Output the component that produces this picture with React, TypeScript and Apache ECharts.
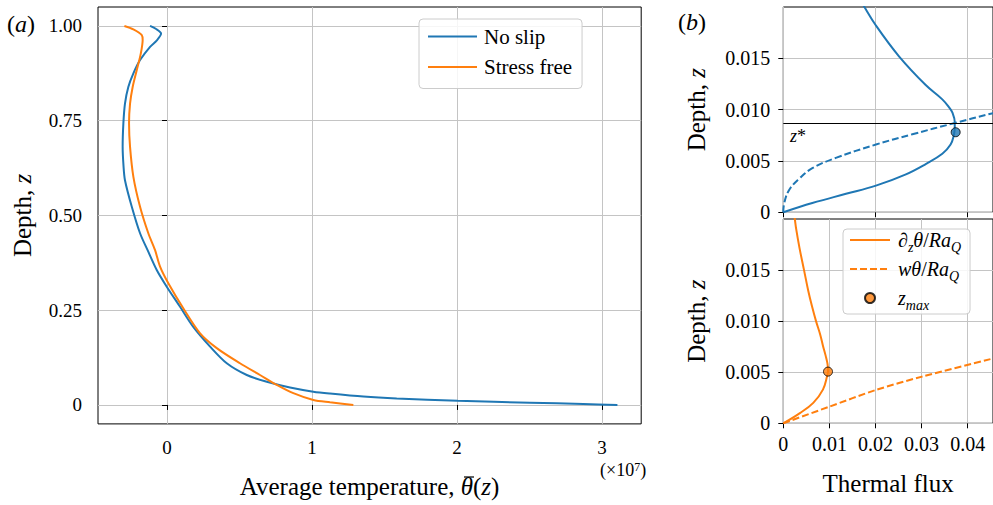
import React, { useEffect, useRef } from "react";
import * as echarts from "echarts";

const FONT = "Liberation Serif, Times New Roman, serif";
const BLUE = "#1f77b4";
const ORANGE = "#ff7f0e";

// ---------- Panel (a): average temperature (units of 1e7) vs depth ----------
const noSlipTemp = [-0.117, -0.075, -0.041, -0.07, -0.117, -0.186, -0.232, -0.267, -0.29, -0.301, -0.306, -0.3, -0.29, -0.243, -0.186, -0.13, -0.071, -0.002, 0.09, 0.181, 0.297, 0.412, 0.55, 0.688, 0.848, 1.009, 1.124, 1.354, 1.584, 2.005, 2.503, 2.871, 3.106];
const noSlipDepth = [1.0, 0.992, 0.98, 0.962, 0.945, 0.91, 0.875, 0.839, 0.795, 0.743, 0.681, 0.63, 0.593, 0.523, 0.453, 0.405, 0.356, 0.312, 0.259, 0.206, 0.154, 0.11, 0.079, 0.061, 0.046, 0.035, 0.03, 0.022, 0.017, 0.011, 0.006, 0.0026, 0];
const stressFreeTemp = [-0.294, -0.232, -0.174, -0.168, -0.181, -0.209, -0.237, -0.255, -0.262, -0.255, -0.232, -0.186, -0.129, -0.083, -0.048, 0.009, 0.112, 0.228, 0.343, 0.503, 0.641, 0.757, 0.871, 1.009, 1.124, 1.285];
const stressFreeDepth = [1.0, 0.991, 0.976, 0.963, 0.927, 0.883, 0.839, 0.795, 0.743, 0.681, 0.602, 0.523, 0.453, 0.409, 0.365, 0.321, 0.255, 0.189, 0.15, 0.11, 0.079, 0.053, 0.031, 0.013, 0.007, 0];
const tempTicks = [0, 1, 2, 3];
const depthTicks = [0, 0.25, 0.5, 0.75, 1.0];

// ---------- Panel (b): thermal flux near the boundary ----------
// no slip (top)
const nsCondFlux = [0, 0.0063, 0.0136, 0.0201, 0.0266, 0.0309, 0.0345, 0.0363, 0.037, 0.0372, 0.0372, 0.0367, 0.036, 0.0345, 0.0309, 0.0251, 0.0201, 0.0172, 0.0168];
const nsCondDepth = [0, 0.0009, 0.0018, 0.0026, 0.0037, 0.0047, 0.0057, 0.0066, 0.0075, 0.0083, 0.0088, 0.0097, 0.0102, 0.011, 0.0124, 0.0152, 0.0182, 0.0203, 0.0206];
const nsConvFlux = [0, 0.0002, 0.0013, 0.0035, 0.0063, 0.0114, 0.0201, 0.028, 0.0372, 0.045, 0.047];
const nsConvDepth = [0, 0.0009, 0.0022, 0.0033, 0.0043, 0.0053, 0.0066, 0.0076, 0.0087, 0.0096, 0.0098];
const zStar = 0.00867;
const nsMax = [0.0374, 0.0078];
// stress free (bottom)
const sfCondFlux = [0, 0.0036, 0.0065, 0.0086, 0.0095, 0.0097, 0.0096, 0.0092, 0.0086, 0.008, 0.0071, 0.0062, 0.0054, 0.0045, 0.0035, 0.0028, 0.0025, 0.0024];
const sfCondDepth = [0, 0.001, 0.002, 0.0033, 0.0046, 0.0051, 0.0058, 0.0066, 0.0076, 0.0087, 0.01, 0.0115, 0.013, 0.015, 0.0172, 0.019, 0.02, 0.0203];
const sfConvFlux = [0, 0.01, 0.0201, 0.0301, 0.0451, 0.047];
const sfConvDepth = [0, 0.00163, 0.00326, 0.00457, 0.0063, 0.0065];
const sfMax = [0.0097, 0.00506];
const fluxTicksTop = [0, 0.02, 0.04];
const fluxTicks = [0, 0.01, 0.02, 0.03, 0.04];
const depthTicksB = [0, 0.005, 0.01, 0.015];

const zip = (xs: number[], ys: number[]) => xs.map((x, i) => [x, ys[i]]);

const italicRich = (size: number) => ({
  i: { fontStyle: "italic", fontSize: size, fontFamily: FONT, color: "#000" },
});

const tick = (vals: number[]) => ({
  show: true,
  customValues: vals,
  length: 5,
  lineStyle: { color: "#000", width: 1 },
});
const split = { show: true, lineStyle: { color: "#c4c4c4", width: 1 } };

const legendRich = {
  n: { fontSize: 20, fontFamily: FONT, color: "#000", lineHeight: 28, verticalAlign: "middle" },
  i: { fontSize: 20, fontFamily: FONT, fontStyle: "italic", color: "#000", lineHeight: 28, verticalAlign: "middle" },
  s: { fontSize: 14, fontFamily: FONT, fontStyle: "italic", color: "#000", lineHeight: 16, verticalAlign: "bottom" },
};
const legendLabels: Record<string, string> = {
  "∂zθ/RaQ": "{n|∂}{s|z}{i|θ}{n|/}{i|Ra}{s|Q}",
  "wθ/RaQ": "{i|wθ}{n|/}{i|Ra}{s|Q}",
  zmax: "{i|z}{s|max}",
};
const noSymbol = { color: "rgba(0,0,0,0)", borderColor: "rgba(0,0,0,0)", borderWidth: 0, opacity: 0 };

export default function App() {
  const ref = useRef<HTMLDivElement>(null);
  useEffect(() => {
    if (!ref.current) return;
    const chart = echarts.init(ref.current, undefined, { renderer: "svg" });
    const fmt = (d: number) => (v: number) => "{d|" + (v === 0 ? "0" : v.toFixed(d)) + "}";
    const nameStyle = { fontSize: 25, fontFamily: FONT, color: "#000", rich: italicRich(25) };
    const label = (size: number, margin: number, vals: number[], f: (v: number) => string) => ({
      customValues: vals, formatter: f, fontSize: size, fontFamily: FONT, color: "#000", margin,
      rich: { d: { fontSize: size, fontFamily: FONT, color: "#000" } },
    });
    const option: any = {
      animation: false,
      backgroundColor: "#fff",
      textStyle: { fontFamily: FONT },
      grid: [
        { left: 98, top: 7, width: 543.2, height: 416.9, show: true, borderColor: "#000", borderWidth: 1, backgroundColor: "transparent" },
        { left: 783.3, top: 7, width: 211.6, height: 205.3, show: true, borderColor: "#000", borderWidth: 1, backgroundColor: "transparent" },
        { left: 783.3, top: 219, width: 211.6, height: 204.3, show: true, borderColor: "#000", borderWidth: 1, backgroundColor: "transparent" },
      ],
      xAxis: [
        {
          gridIndex: 0, type: "value", min: -0.476, max: 3.27,
          axisLine: { show: false },
          axisTick: tick(tempTicks),
          axisLabel: label(19, 14, tempTicks, (v: number) => "{d|" + String(v) + "}"),
          splitLine: split,
          name: "Average temperature, {i|θ}({i|z})",
          nameLocation: "middle", nameGap: 50,
          nameTextStyle: nameStyle,
        },
        {
          gridIndex: 1, type: "value", min: 0, max: 0.0455,
          axisLine: { show: false },
          axisTick: tick(fluxTicksTop),
          axisLabel: { show: false },
          splitLine: split,
        },
        {
          gridIndex: 2, type: "value", min: 0, max: 0.0455,
          axisLine: { show: false },
          axisTick: tick(fluxTicks),
          axisLabel: label(20, 11, fluxTicks, fmt(2)),
          splitLine: split,
          name: "Thermal flux", nameLocation: "middle", nameGap: 48,
          nameTextStyle: nameStyle,
        },
      ],
      yAxis: [
        {
          gridIndex: 0, type: "value", min: -0.05, max: 1.05,
          axisLine: { show: false },
          axisTick: tick(depthTicks),
          axisLabel: label(19, 16, depthTicks, fmt(2)),
          splitLine: split,
          name: "Depth, {i|z}", nameLocation: "middle", nameRotate: 90, nameGap: 63,
          nameTextStyle: nameStyle,
        },
        {
          gridIndex: 1, type: "value", min: 0, max: 0.02,
          axisLine: { show: false },
          axisTick: tick(depthTicksB),
          axisLabel: label(20, 13, depthTicksB, fmt(3)),
          splitLine: split,
          name: "Depth, {i|z}", nameLocation: "middle", nameRotate: 90, nameGap: 74,
          nameTextStyle: nameStyle,
        },
        {
          gridIndex: 2, type: "value", min: 0, max: 0.02,
          axisLine: { show: false },
          axisTick: tick(depthTicksB),
          axisLabel: label(20, 13, depthTicksB, fmt(3)),
          splitLine: split,
          name: "Depth, {i|z}", nameLocation: "middle", nameRotate: 90, nameGap: 74,
          nameTextStyle: nameStyle,
        },
      ],
      legend: [
        {
          data: [
            { name: "No slip", itemStyle: noSymbol },
            { name: "Stress free", itemStyle: noSymbol },
          ],
          orient: "vertical", left: 419, top: 19,
          padding: [7, 10, 11, 8], itemGap: 9.5, itemWidth: 49, itemHeight: 14,
          backgroundColor: "rgba(255,255,255,0.85)", borderColor: "#cccccc", borderWidth: 1, borderRadius: 4,
          selectedMode: false,
          formatter: (name: string) => "{d|" + name + "}",
          textStyle: {
            fontSize: 21, fontFamily: FONT, color: "#000", padding: [0, 0, 0, 2],
            rich: { d: { fontSize: 21, fontFamily: FONT, color: "#000", lineHeight: 24 } },
          },
        },
        {
          data: [
            { name: "∂zθ/RaQ", itemStyle: noSymbol },
            { name: "wθ/RaQ", itemStyle: noSymbol },
            { name: "zmax" },
          ],
          orient: "vertical", left: 843, top: 229,
          padding: [1, 9, 2, 6], itemGap: 5, itemWidth: 40, itemHeight: 10,
          backgroundColor: "rgba(255,255,255,0.85)", borderColor: "#cccccc", borderWidth: 1, borderRadius: 4,
          selectedMode: false,
          formatter: (name: string) => legendLabels[name] || name,
          textStyle: { fontSize: 20, fontFamily: FONT, color: "#000", rich: legendRich, padding: [0, 0, 0, 3] },
        },
      ],
      series: [
        {
          type: "line", name: "No slip", xAxisIndex: 0, yAxisIndex: 0,
          data: zip(noSlipTemp, noSlipDepth), symbol: "none", smooth: 0.3,
          lineStyle: { color: BLUE, width: 2 }, itemStyle: { color: BLUE },
        },
        {
          type: "line", name: "Stress free", xAxisIndex: 0, yAxisIndex: 0,
          data: zip(stressFreeTemp, stressFreeDepth), symbol: "none", smooth: 0.3,
          lineStyle: { color: ORANGE, width: 2 }, itemStyle: { color: ORANGE },
        },
        {
          type: "line", name: "No slip conductive", xAxisIndex: 1, yAxisIndex: 1,
          data: zip(nsCondFlux, nsCondDepth), symbol: "none", smooth: 0.4,
          lineStyle: { color: BLUE, width: 2 }, itemStyle: { color: BLUE },
          markLine: {
            silent: true, symbol: ["none", "none"], label: { show: false }, precision: 6,
            lineStyle: { color: "#000", type: "solid", width: 1 },
            data: [{ yAxis: zStar }],
          },
        },
        {
          type: "line", name: "No slip convective", xAxisIndex: 1, yAxisIndex: 1,
          data: zip(nsConvFlux, nsConvDepth), symbol: "none", smooth: 0.4,
          lineStyle: { color: BLUE, width: 2, type: [7, 3] }, itemStyle: { color: BLUE },
        },
        {
          type: "scatter", name: "No slip max", xAxisIndex: 1, yAxisIndex: 1,
          data: [nsMax], symbolSize: 9, z: 5,
          itemStyle: { color: BLUE, borderColor: "#000", borderWidth: 1 },
        },
        {
          type: "line", name: "∂zθ/RaQ", xAxisIndex: 2, yAxisIndex: 2,
          data: zip(sfCondFlux, sfCondDepth), symbol: "none", smooth: 0.4,
          lineStyle: { color: ORANGE, width: 2 }, itemStyle: { color: ORANGE },
        },
        {
          type: "line", name: "wθ/RaQ", xAxisIndex: 2, yAxisIndex: 2,
          data: zip(sfConvFlux, sfConvDepth), symbol: "none", smooth: 0.3,
          lineStyle: { color: ORANGE, width: 2, type: [7, 3] }, itemStyle: { color: ORANGE },
        },
        {
          type: "scatter", name: "zmax", xAxisIndex: 2, yAxisIndex: 2,
          data: [sfMax], symbolSize: 9, z: 5,
          itemStyle: { color: ORANGE, borderColor: "#000", borderWidth: 1 },
        },
      ],
      graphic: [
        {
          type: "text", x: 7, y: 12,
          style: { text: "({i|a})", fontSize: 24, fontFamily: FONT, fill: "#000", rich: italicRich(24) },
        },
        {
          type: "text", x: 678, y: 10,
          style: { text: "({i|b})", fontSize: 24, fontFamily: FONT, fill: "#000", rich: italicRich(24) },
        },
        {
          type: "text", x: 600, y: 461,
          style: {
            text: "(×10{sup|7})", fontSize: 18, fontFamily: FONT, fill: "#000",
            rich: { sup: { fontSize: 12, fontFamily: FONT, verticalAlign: "top", lineHeight: 12 } },
          },
        },
        {
          type: "text", x: 790, y: 127,
          style: { text: "{i|z}*", fontSize: 18, fontFamily: FONT, fill: "#000", rich: italicRich(18) },
        },
        // overline over θ in the x-axis title
        {
          type: "line", silent: true,
          shape: { x1: 464, y1: 477, x2: 474, y2: 477 },
          style: { stroke: "#000", lineWidth: 1.2 },
        },
      ],
    };
    chart.setOption(option);
    return () => chart.dispose();
  }, []);
  return (
    <div
      ref={ref}
      style={{ position: "absolute", left: 0, top: 0, width: 993, height: 505 }}
    />
  );
}
